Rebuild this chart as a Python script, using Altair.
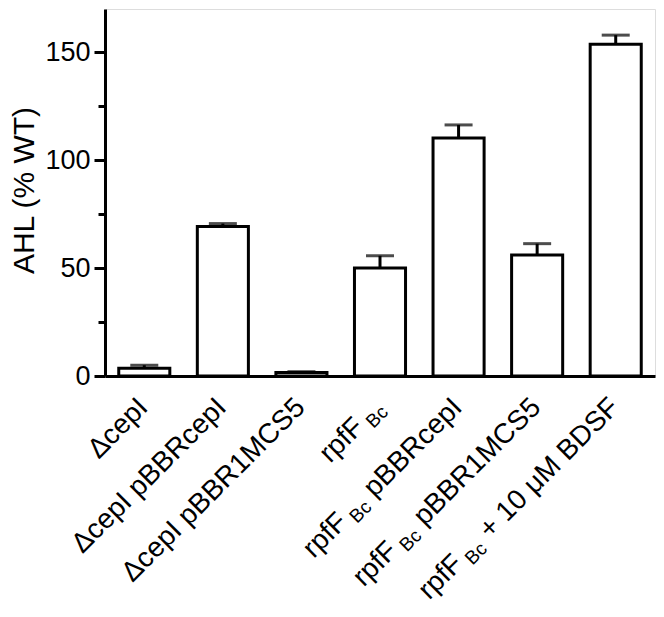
import altair as alt
import pandas as pd

# ---- data ----
categories = ["ΔcepI", "ΔcepI pBBRcepI", "ΔcepI pBBR1MCS5", "rpfF Bc",
              "rpfF Bc pBBRcepI", "rpfF Bc pBBR1MCS5", "rpfF Bc + 10 μM BDSF"]
values = [3.6, 69.3, 1.6, 50.0, 110.3, 56.0, 153.7]
errors = [1.4, 1.3, 0.4, 5.7, 6.0, 5.3, 4.2]

# label text split into (text, is_subscript) pieces
label_segments = [
    [("ΔcepI", False)],
    [("ΔcepI pBBRcepI", False)],
    [("ΔcepI pBBR1MCS5", False)],
    [("rpfF", False), ("Bc", True)],
    [("rpfF", False), ("Bc", True), ("pBBRcepI", False)],
    [("rpfF", False), ("Bc", True), ("pBBR1MCS5", False)],
    [("rpfF", False), ("Bc", True), ("+ 10 μM BDSF", False)],
]

FONT = "Liberation Sans"
MAIN_SIZE = 28
SUB_SIZE = 19

# Arial / Liberation Sans advance widths (per 1000 em)
W = {" ": 278, "Δ": 668, "c": 500, "e": 556, "p": 556, "I": 278, "B": 667, "R": 722,
     "1": 556, "M": 833, "C": 722, "S": 667, "5": 556, "r": 333, "f": 278, "F": 611,
     "+": 584, "0": 556, "μ": 576, "D": 722}


def text_width(s, size):
    return sum(W.get(ch, 556) for ch in s) * size / 1000.0


# label end offset (screen px, relative to band centre on the x axis)
ox, oy = 5.0, 33.0
k = 0.7071
dx0 = k * (ox - oy)
dy0 = k * (ox + oy)

GAP_BEFORE_SUB = 0.2 * MAIN_SIZE   # between "rpfF" and subscript "Bc"
GAP_AFTER_SUB = 0.3 * MAIN_SIZE    # between subscript "Bc" and the next word

rows = []
for cat, segs in zip(categories, label_segments):
    offset = 0.0
    prev_sub = None
    for text, sub in reversed(segs):
        if prev_sub is not None:
            offset += GAP_AFTER_SUB if sub else GAP_BEFORE_SUB
        size = SUB_SIZE if sub else MAIN_SIZE
        rows.append({"cat": cat, "text": text, "sub": sub,
                     "dx": dx0 - offset, "dy": dy0 + (6 if sub else 0)})
        offset += text_width(text, size)
        prev_sub = sub

labels_df = pd.DataFrame(rows)

df = pd.DataFrame({"cat": categories, "value": values, "err": errors})
df["upper"] = df["value"] + df["err"]

x_enc = alt.X("cat:N", sort=categories,
              scale=alt.Scale(paddingInner=0.35, paddingOuter=0.175),
              axis=alt.Axis(labels=False, ticks=False, title=None,
                            domainWidth=3, domainColor="black"))

y_axis = alt.Axis(
    values=[0, 25, 50, 75, 100, 125, 150],
    labelExpr="datum.value % 50 === 0 ? datum.label : ''",
    tickSize={"condition": {"test": "datum.value % 50 === 0", "value": 11}, "value": 7},
    tickWidth=3, tickColor="black", domainWidth=3, domainColor="black",
    labelFontSize=27, labelFont=FONT, labelColor="black", labelPadding=4,
    title="AHL (% WT)", titleFont=FONT, titleFontSize=30, titleFontWeight="normal",
    titleColor="black", titleX=-72, titleY=181, titleBaseline="alphabetic",
    titleAlign="center", titleAngle=270, grid=False)

y_scale = alt.Scale(domain=[0, 170], nice=False)

bars = alt.Chart(df).mark_bar(fill="white", stroke="black", strokeWidth=3).encode(
    x=x_enc,
    y=alt.Y("value:Q", scale=y_scale, axis=y_axis),
)

rules = alt.Chart(df).mark_rule(color="black", strokeWidth=3).encode(
    x=alt.X("cat:N", sort=categories),
    y="value:Q",
    y2="upper:Q",
)

caps = alt.Chart(df).mark_tick(color="black", size=28, thickness=3).encode(
    x=alt.X("cat:N", sort=categories),
    y="upper:Q",
)

main_text = alt.Chart(labels_df).transform_filter("!datum.sub").mark_text(
    angle=315, align="right", baseline="alphabetic", font=FONT, fontSize=MAIN_SIZE,
    color="black", dx=alt.expr("datum.dx"), dy=alt.expr("datum.dy")
).encode(
    x=alt.X("cat:N", sort=categories),
    y=alt.datum(0),
    text="text:N",
)

sub_text = alt.Chart(labels_df).transform_filter("datum.sub").mark_text(
    angle=315, align="right", baseline="alphabetic", font=FONT, fontSize=SUB_SIZE,
    color="black", dx=alt.expr("datum.dx"), dy=alt.expr("datum.dy")
).encode(
    x=alt.X("cat:N", sort=categories),
    y=alt.datum(0),
    text="text:N",
)

chart = alt.layer(bars, rules, caps, main_text, sub_text).properties(
    width=550, height=367,
    autosize=alt.AutoSizeParams(type="none"),
    padding={"left": 97, "top": 1, "right": 1, "bottom": 233},
).configure_view(stroke=None).configure(font=FONT)

chart.save("out.html", embed_options={"renderer": "svg", "actions": False})
